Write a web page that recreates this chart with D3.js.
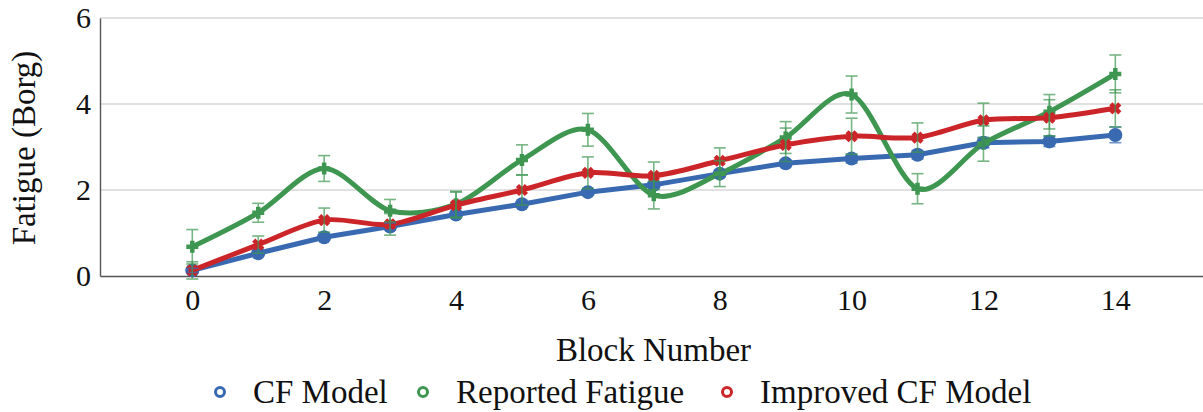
<!DOCTYPE html>
<html>
<head>
  <script src="https://d3js.org/d3.v7.min.js"></script>
  <style>
    body { margin: 0; background: #fff; }
    text { font-family: "Liberation Serif", serif; fill: #111; }
  </style>
</head>
<body>
  <svg id="chart" width="1203" height="412"></svg>
  <script>
    // data
    const blocks = [0, 1, 2, 3, 4, 5, 6, 7, 8, 9, 10, 11, 12, 13, 14];
    const cfModel = [0.13, 0.53, 0.9, 1.15, 1.43, 1.67, 1.95, 2.12, 2.38, 2.62, 2.73, 2.82, 3.1, 3.13, 3.28];
    const cfErr = [0.05, 0.05, 0.05, 0.08, 0.06, 0.06, 0.06, 0.07, 0.08, 0.08, 0.1, 0.1, 0.12, 0.12, 0.18];
    const reported = [0.68, 1.47, 2.5, 1.52, 1.67, 2.7, 3.4, 1.88, 2.38, 3.22, 4.22, 2.03, 3.08, 3.82, 4.7];
    const reportedErr = [0.4, 0.22, 0.3, 0.26, 0.3, 0.35, 0.38, 0.32, 0.3, 0.37, 0.43, 0.35, 0.41, 0.4, 0.44];
    const improved = [0.13, 0.73, 1.3, 1.2, 1.65, 2.0, 2.4, 2.33, 2.68, 3.05, 3.25, 3.22, 3.62, 3.68, 3.9];
    const improvedErr = [0.2, 0.2, 0.28, 0.25, 0.3, 0.35, 0.37, 0.32, 0.3, 0.39, 0.42, 0.34, 0.4, 0.42, 0.43];
    const yTicks = [0, 2, 4, 6];
    const xTicks = [0, 2, 4, 6, 8, 10, 12, 14];
    const seriesNames = ["CF Model", "Reported Fatigue", "Improved CF Model"];

    const blue = "#396ab1", green = "#3e9651", red = "#cc2529";
    const fontFam = "Liberation Serif";

    const svg = d3.select("#chart");
    const mLeft = 100, mRight = 1203, mTop = 18, mBottom = 276;

    const x = d3.scaleLinear().domain([-1.4, 15.33]).range([mLeft, mRight]);
    const y = d3.scaleLinear().domain([0, 6]).range([mBottom, mTop]);

    // grid
    svg.append("g").selectAll("line")
      .data(yTicks.filter(d => d > 0))
      .join("line")
      .attr("x1", mLeft).attr("x2", mRight)
      .attr("y1", d => y(d)).attr("y2", d => y(d))
      .attr("stroke", "#c4c4c4").attr("stroke-width", 1.2);

    // axes
    const yAxis = svg.append("g")
      .attr("transform", `translate(${mLeft},0)`)
      .call(d3.axisLeft(y).tickValues(yTicks).tickSize(0).tickPadding(9).tickFormat(d3.format("d")));
    const xAxis = svg.append("g")
      .attr("transform", `translate(0,${mBottom})`)
      .call(d3.axisBottom(x).tickValues(xTicks).tickSize(0).tickPadding(13).tickFormat(d3.format("d")));
    xAxis.select(".domain").attr("stroke", "#555").attr("stroke-width", 1.4);
    yAxis.select(".domain").attr("stroke", "#555").attr("stroke-width", 1.4);
    svg.selectAll(".tick text").attr("font-size", 30).attr("font-family", fontFam).attr("fill", "#111");
    yAxis.selectAll(".tick text").attr("dy", "0.33em");

    // axis titles
    svg.append("text")
      .attr("x", (mLeft + mRight) / 2 + 2).attr("y", 361)
      .attr("text-anchor", "middle").attr("font-size", 33).attr("font-family", fontFam)
      .text("Block Number");
    svg.append("text")
      .attr("transform", "translate(35,148) rotate(-90)")
      .attr("text-anchor", "middle").attr("font-size", 33).attr("font-family", fontFam)
      .text("Fatigue (Borg)");

    const pts = vals => blocks.map((b, i) => ({ b, v: vals[i] }));

    const straight = d3.line().x(d => x(d.b)).y(d => y(d.v));
    const smooth = d3.line().x(d => x(d.b)).y(d => y(d.v)).curve(d3.curveCardinal.tension(0.1));

    const plot = svg.append("g");

    // CF model
    plot.append("path").datum(pts(cfModel))
      .attr("d", straight).attr("fill", "none")
      .attr("stroke", blue).attr("stroke-width", 5).attr("stroke-linejoin", "round");
    plot.append("g").selectAll("circle").data(pts(cfModel)).join("circle")
      .attr("cx", d => x(d.b)).attr("cy", d => y(d.v)).attr("r", 7).attr("fill", blue);

    // reported fatigue
    plot.append("path").datum(pts(reported))
      .attr("d", smooth).attr("fill", "none")
      .attr("stroke", green).attr("stroke-width", 5);
    const plus = "M-6,0H6M0,-6V6";
    plot.append("g").selectAll("path").data(pts(reported)).join("path")
      .attr("transform", d => `translate(${x(d.b)},${y(d.v)})`)
      .attr("d", plus).attr("stroke", green).attr("stroke-width", 4.5);

    // improved CF model
    plot.append("path").datum(pts(improved))
      .attr("d", smooth).attr("fill", "none")
      .attr("stroke", red).attr("stroke-width", 5);
    const cross = "M-4.5,-4.5L4.5,4.5M-4.5,4.5L4.5,-4.5";
    plot.append("g").selectAll("path").data(pts(improved)).join("path")
      .attr("transform", d => `translate(${x(d.b)},${y(d.v)})`)
      .attr("d", cross).attr("stroke", red).attr("stroke-width", 4.5);

    // error bars
    function errorBars(vals, errs, color) {
      const g = plot.append("g").attr("stroke", color).attr("stroke-width", 1.6).attr("opacity", 0.7);
      blocks.forEach((b, i) => {
        const cx = x(b), lo = y(vals[i] - errs[i]), hi = y(vals[i] + errs[i]);
        g.append("line").attr("x1", cx).attr("x2", cx).attr("y1", lo).attr("y2", hi);
        g.append("line").attr("x1", cx - 6).attr("x2", cx + 6).attr("y1", lo).attr("y2", lo);
        g.append("line").attr("x1", cx - 6).attr("x2", cx + 6).attr("y1", hi).attr("y2", hi);
      });
    }
    errorBars(cfModel, cfErr, blue);
    errorBars(reported, reportedErr, green);
    errorBars(improved, improvedErr, green);

    // legend
    const legendColors = [blue, green, red];
    const legendX = [220, 423, 727];
    const legend = svg.append("g");
    seriesNames.forEach((name, i) => {
      legend.append("circle")
        .attr("cx", legendX[i]).attr("cy", 392).attr("r", 4.5)
        .attr("fill", "#fff").attr("stroke", legendColors[i]).attr("stroke-width", 3);
      legend.append("text")
        .attr("x", legendX[i] + 33).attr("y", 403).attr("font-size", 33).attr("font-family", fontFam)
        .text(name);
    });
  </script>
</body>
</html>
